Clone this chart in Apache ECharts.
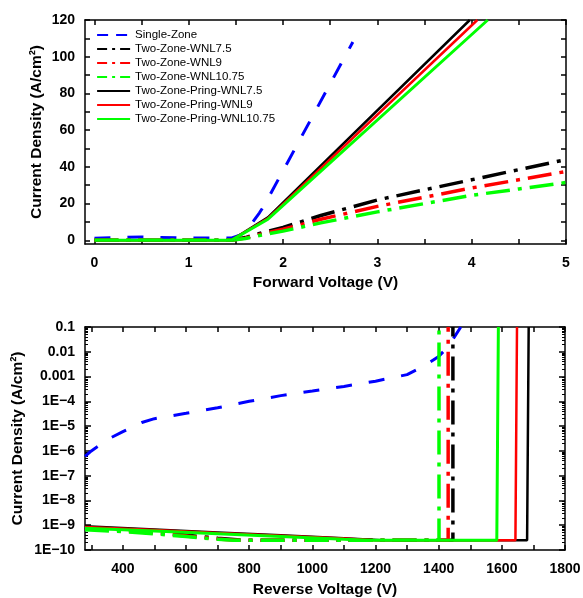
<!DOCTYPE html>
<html><head><meta charset="utf-8">
<script src="https://cdn.jsdelivr.net/npm/echarts@6/dist/echarts.min.js"></script>
<style>html,body{margin:0;padding:0;background:#fff}#c{width:583px;height:598px}</style>
</head><body><div id="c"></div>
<script>
// ---------- names ----------
const seriesNames = ['Single-Zone','Two-Zone-WNL7.5','Two-Zone-WNL9','Two-Zone-WNL10.75',
  'Two-Zone-Pring-WNL7.5','Two-Zone-Pring-WNL9','Two-Zone-Pring-WNL10.75'];
const seriesColors = ['#0000ff','#000000','#ff0000','#00ff00','#000000','#ff0000','#00ff00'];

// ---------- forward (top) : [V, A/cm2] ----------
const fwdSingleZone = [[0,1.2],[0.5,1.8],[1,1.2],[1.45,1.2],[1.55,3],[1.65,8],[1.75,15],[1.8,19],[2.74,108]];
const fwdTwoZone75  = [[0,0],[1.45,0],[1.6,1.5],[1.8,4.5],[2,7],[2.4,13.5],[3,22],[3.5,27.5],[4,33],[4.5,38.5],[5,44]];
const fwdTwoZone9   = [[0,0],[1.45,0],[1.6,1.2],[1.8,3.8],[2,6],[2.4,11.5],[3,18.5],[3.5,23.5],[4,28.5],[4.5,33],[5,37.5]];
const fwdTwoZone1075= [[0,0],[1.45,0],[1.6,1],[1.8,3.2],[2,5],[2.4,9.5],[3,15.5],[3.5,20],[4,24.5],[4.5,28],[5,31.5]];
const fwdPring75    = [[0,0],[1.45,0],[1.84,12.5],[3.98,120]];
const fwdPring9     = [[0,0],[1.45,0],[1.84,12],[4.06,120]];
const fwdPring1075  = [[0,0],[1.45,0],[1.84,11.5],[4.17,120]];

// ---------- reverse (bottom) : [V, A/cm2] ----------
const revSingleZone = [[280,6e-7],[300,1e-6],[360,3.3e-6],[400,6e-6],[460,1.4e-5],[500,2e-5],[600,3.3e-5],[700,5.5e-5],[800,1e-4],[900,1.7e-4],[1000,2.6e-4],[1100,4e-4],[1200,6.5e-4],[1300,1.2e-3],[1350,2.5e-3],[1400,6.5e-3],[1430,1.6e-2],[1450,4e-2],[1470,0.1]];
const revTwoZone75  = [[280,8e-10],[400,6.5e-10],[500,5.2e-10],[600,4e-10],[700,3e-10],[780,2.5e-10],[1445,2.5e-10],[1445,0.1]];
const revTwoZone9   = [[280,7.5e-10],[400,6e-10],[500,4.8e-10],[600,3.7e-10],[700,2.8e-10],[760,2.5e-10],[1430,2.5e-10],[1430,0.1]];
const revTwoZone1075= [[280,6.5e-10],[400,5.5e-10],[500,4.5e-10],[600,3.5e-10],[700,2.7e-10],[750,2.5e-10],[1401,2.5e-10],[1401,0.1]];
const revPring75    = [[280,9e-10],[500,6.7e-10],[700,5.1e-10],[900,3.9e-10],[1100,2.95e-10],[1220,2.5e-10],[1680,2.5e-10],[1684,3e-10],[1685,0.1]];
const revPring9     = [[280,8.5e-10],[500,6.4e-10],[700,4.9e-10],[900,3.8e-10],[1100,2.9e-10],[1200,2.5e-10],[1643,2.5e-10],[1647,3e-10],[1648,0.1]];
const revPring1075  = [[280,7.5e-10],[500,5.8e-10],[700,4.5e-10],[900,3.5e-10],[1100,2.7e-10],[1180,2.5e-10],[1584,2.5e-10],[1588,3e-10],[1589,0.1]];

// ---------- ticks ----------
const fwdXLabels = [0,1,2,3,4,5];
const fwdXTicks  = [0,0.5,1,1.5,2,2.5,3,3.5,4,4.5,5];
const fwdYLabels = [0,20,40,60,80,100,120];
const fwdYTicks  = [0,10,20,30,40,50,60,70,80,90,100,110,120];
const revXLabels = [400,600,800,1000,1200,1400,1600,1800];
const revXTicks  = [300,400,500,600,700,800,900,1000,1100,1200,1300,1400,1500,1600,1700,1800];
const revYLabelText = {'-10':'1E\u221210','-9':'1E\u22129','-8':'1E\u22128','-7':'1E\u22127','-6':'1E\u22126','-5':'1E\u22125','-4':'1E\u22124','-3':'0.001','-2':'0.01','-1':'0.1'};

const FONT = 'Liberation Sans, Arial, sans-serif';
const lbl = {color:'#000', fontFamily:FONT, fontWeight:'bold', fontSize:14};
const nameStyle = {color:'#000', fontFamily:FONT, fontWeight:'bold', fontSize:15.5};
const line = {show:true, onZero:false, lineStyle:{color:'#000', width:1.5}};

function minorLogTicks(){
  const out=[];
  for(let e=-10;e<-1;e++) for(let m=2;m<=9;m++) out.push(+(m+'e'+e));
  return out;
}

const fwdData=[fwdSingleZone,fwdTwoZone75,fwdTwoZone9,fwdTwoZone1075,fwdPring75,fwdPring9,fwdPring1075];
const revData=[revSingleZone,revTwoZone75,revTwoZone9,revTwoZone1075,revPring75,revPring9,revPring1075];
const dashes=[[16,17],[24,8,4,8],[24,8,4,8],[24,8,4,8],'solid','solid','solid'];
const legendDashes=[[11,8],[10,5,3,5],[10,5,3,5],[10,5,3,5],'solid','solid','solid'];
const widths=[3,3.5,3.5,3.5,2.5,2.5,3];

const series=[];
for(let i=0;i<7;i++){
  series.push({name:seriesNames[i],type:'line',xAxisIndex:0,yAxisIndex:0,data:fwdData[i],
    symbol:'none',lineStyle:{color:seriesColors[i],width:widths[i],type:dashes[i],cap:'butt'},
    itemStyle:{color:seriesColors[i]},animation:false});
}
for(let i=0;i<7;i++){
  series.push({name:seriesNames[i],type:'line',xAxisIndex:2,yAxisIndex:2,data:revData[i],
    symbol:'none',lineStyle:{color:seriesColors[i],width:widths[i],type:dashes[i],cap:'butt'},
    itemStyle:{color:seriesColors[i]},animation:false});
}

const option={
  animation:false,
  backgroundColor:'#fff',
  textStyle:{fontFamily:FONT},
  legend:{orient:'vertical',left:96,top:28,padding:0,itemGap:0,itemWidth:33,itemHeight:14,
    itemStyle:{opacity:0},
    data:seriesNames.map((n,i)=>({name:n,lineStyle:{type:legendDashes[i],width:2.2,color:seriesColors[i]}})),
    textStyle:{fontFamily:FONT,fontSize:11.5,color:'#000',lineHeight:14},
    selectedMode:false},
  grid:[
    {left:85,top:20,width:481,height:224,outerBoundsMode:'none',containLabel:false},
    {left:85,top:327,width:480,height:223,outerBoundsMode:'none',containLabel:false}
  ],
  xAxis:[
    {gridIndex:0,type:'value',min:-0.1,max:5,position:'bottom',axisLine:line,splitLine:{show:false},
     axisTick:{show:true,inside:true,length:5,lineStyle:{color:'#000',width:1.5},customValues:fwdXTicks},
     axisLabel:Object.assign({margin:12,customValues:fwdXLabels},lbl),
     name:'Forward Voltage (V)',nameLocation:'middle',nameGap:31,nameMoveOverlap:false,nameTextStyle:nameStyle},
    {gridIndex:0,type:'value',min:-0.1,max:5,position:'top',axisLine:line,splitLine:{show:false},
     axisTick:{show:true,inside:true,length:5,lineStyle:{color:'#000',width:1.5},customValues:fwdXTicks},
     axisLabel:{show:false}},
    {gridIndex:1,type:'value',min:280,max:1800,position:'bottom',axisLine:line,splitLine:{show:false},
     axisTick:{show:true,inside:true,length:5,lineStyle:{color:'#000',width:1.5},customValues:revXTicks},
     axisLabel:Object.assign({margin:12,customValues:revXLabels,formatter:function(v){return String(v);}},lbl),
     name:'Reverse Voltage (V)',nameLocation:'middle',nameGap:32,nameMoveOverlap:false,nameTextStyle:nameStyle},
    {gridIndex:1,type:'value',min:280,max:1800,position:'top',axisLine:line,splitLine:{show:false},
     axisTick:{show:true,inside:true,length:5,lineStyle:{color:'#000',width:1.5},customValues:revXTicks},
     axisLabel:{show:false}}
  ],
  yAxis:[
    {gridIndex:0,type:'value',min:-2,max:120,position:'left',axisLine:line,splitLine:{show:false},
     axisTick:{show:true,inside:true,length:5,lineStyle:{color:'#000',width:1.5},customValues:fwdYTicks},
     axisLabel:Object.assign({margin:10,customValues:fwdYLabels},lbl),
     name:'Current Density (A/cm\u00b2)',nameLocation:'middle',nameGap:40,nameMoveOverlap:false,nameTextStyle:nameStyle},
    {gridIndex:0,type:'value',min:-2,max:120,position:'right',axisLine:line,splitLine:{show:false},
     axisTick:{show:true,inside:true,length:5,lineStyle:{color:'#000',width:1.5},customValues:fwdYTicks},
     axisLabel:{show:false}},
    {gridIndex:1,type:'log',logBase:10,min:1e-10,max:0.1,interval:1,position:'left',axisLine:line,splitLine:{show:false},
     axisTick:{show:true,inside:true,length:6,lineStyle:{color:'#000',width:1.5}},
     minorTick:{show:false},
     axisLabel:Object.assign({margin:10,formatter:function(v){const e=Math.round(Math.log10(v));return revYLabelText[e]||'';}},lbl),
     name:'Current Density (A/cm\u00b2)',nameLocation:'middle',nameGap:59,nameMoveOverlap:false,nameTextStyle:nameStyle},
    {gridIndex:1,type:'log',logBase:10,min:1e-10,max:0.1,interval:1,position:'right',axisLine:line,splitLine:{show:false},
     axisTick:{show:true,inside:true,length:6,lineStyle:{color:'#000',width:1.5}},
     axisLabel:{show:false}},
    {gridIndex:1,type:'log',logBase:10,min:1e-10,max:0.1,position:'left',axisLine:{show:false},splitLine:{show:false},
     axisTick:{show:true,inside:true,length:3,lineStyle:{color:'#000',width:1},customValues:minorLogTicks()},
     axisLabel:{show:false}},
    {gridIndex:1,type:'log',logBase:10,min:1e-10,max:0.1,position:'right',axisLine:{show:false},splitLine:{show:false},
     axisTick:{show:true,inside:true,length:3,lineStyle:{color:'#000',width:1},customValues:minorLogTicks()},
     axisLabel:{show:false}}
  ],
  series:series
};
const chart=echarts.init(document.getElementById('c'),null,{renderer:'canvas'});
chart.setOption(option);
</script></body></html>
